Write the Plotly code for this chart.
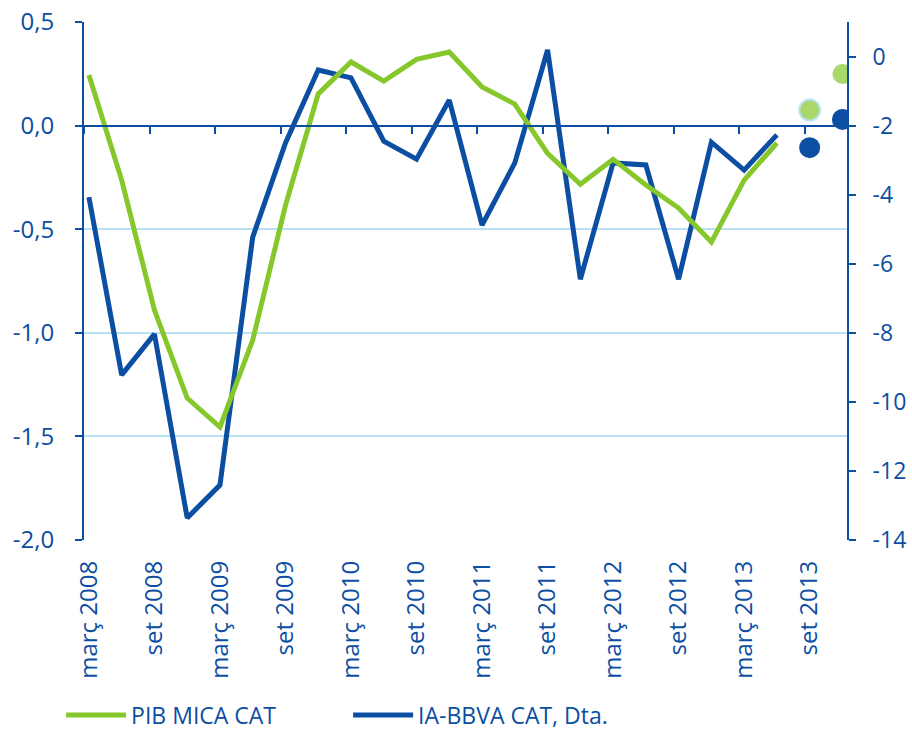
import plotly.graph_objects as go

# ---- data ----
quarters = ["març 2008", "juny 2008", "set 2008", "des 2008",
            "març 2009", "juny 2009", "set 2009", "des 2009",
            "març 2010", "juny 2010", "set 2010", "des 2010",
            "març 2011", "juny 2011", "set 2011", "des 2011",
            "març 2012", "juny 2012", "set 2012", "des 2012",
            "març 2013", "juny 2013", "set 2013", "des 2013"]

pib_mica = [0.244, -0.263, -0.89, -1.315, -1.455, -1.035, -0.385, 0.153,
            0.307, 0.215, 0.32, 0.355, 0.186, 0.104, -0.134, -0.283,
            -0.163, -0.287, -0.398, -0.562, -0.263, -0.084]
ia_bbva = [-4.07, -9.22, -8.04, -13.36, -12.41, -5.23, -2.50, -0.39,
           -0.62, -2.45, -2.97, -1.26, -4.88, -3.08, 0.19, -6.45,
           -3.08, -3.14, -6.45, -2.48, -3.29, -2.27]

pib_forecast_q = [22, 23]
pib_forecast = [0.075, 0.249]
ia_forecast_q = [22, 23]
ia_forecast = [-2.64, -1.82]

left_ticks = [0.5, 0.0, -0.5, -1.0, -1.5, -2.0]
left_ticktext = ["0,5", "0,0", "-0,5", "-1,0", "-1,5", "-2,0"]
right_ticks = [0, -2, -4, -6, -8, -10, -12, -14]
right_ticktext = ["0", "-2", "-4", "-6", "-8", "-10", "-12", "-14"]

label_idx = list(range(0, 24, 2))
label_text = [quarters[i] for i in label_idx]

BLUE = "#0b4ea2"
GREEN = "#86c72c"
GRID = "#b8e2f4"
FONT = "Open Sans"

x_main = list(range(len(pib_mica)))
x_ia = list(range(len(ia_bbva)))
xr = [-0.15, 23.14]
zero_ticks = [2 * k - 0.15 for k in range(12)]

fig = go.Figure()
fig.add_trace(go.Scatter(x=x_main, y=pib_mica, mode="lines", name="PIB MICA CAT",
                         line=dict(color=GREEN, width=5), xaxis="x2", yaxis="y"))
fig.add_trace(go.Scatter(x=x_ia, y=ia_bbva, mode="lines", name="IA-BBVA CAT, Dta.",
                         line=dict(color=BLUE, width=5), xaxis="x", yaxis="y2"))
fig.add_trace(go.Scatter(x=pib_forecast_q, y=pib_forecast, mode="markers", showlegend=False,
                         marker=dict(color=GREEN, size=[21, 20],
                                     line=dict(color=["#9fd6f2", GREEN], width=[2, 0])),
                         xaxis="x", yaxis="y"))
fig.add_trace(go.Scatter(x=ia_forecast_q, y=ia_forecast, mode="markers", showlegend=False,
                         marker=dict(color=BLUE, size=21), xaxis="x", yaxis="y2"))

fig.update_layout(
    width=912, height=734,
    margin=dict(l=84, r=65, t=22, b=194, autoexpand=False),
    paper_bgcolor="white", plot_bgcolor="white",
    font=dict(family=FONT, color=BLUE, size=24),
    xaxis=dict(range=xr, tickmode="array", tickvals=label_idx, ticktext=label_text,
               tickangle=-90, showline=False, showgrid=False, zeroline=False,
               ticks="", ticklabelstandoff=15, ticklabeloverflow="allow",
               tickfont=dict(size=24, color=BLUE)),
    xaxis2=dict(range=xr, overlaying="x", anchor="free", position=0.8,
                showline=True, linecolor=BLUE, linewidth=2, showgrid=False,
                zeroline=False, ticks="outside", ticklen=7, tickwidth=2, tickcolor=BLUE,
                tickmode="array", tickvals=zero_ticks, showticklabels=False),
    yaxis=dict(range=[-2, 0.5], tickmode="array", tickvals=left_ticks, ticktext=left_ticktext,
               showline=True, linecolor=BLUE, linewidth=2, ticks="outside", ticklen=7,
               tickwidth=2, tickcolor=BLUE, showgrid=True, gridcolor=GRID, gridwidth=2,
               zeroline=False, ticklabelstandoff=16, ticklabeloverflow="allow",
               tickfont=dict(size=24, color=BLUE)),
    yaxis2=dict(range=[-14, 1], overlaying="y", side="right", tickmode="array",
                tickvals=right_ticks, ticktext=right_ticktext,
                showline=True, linecolor=BLUE, linewidth=2, ticks="outside", ticklen=7,
                tickwidth=2, tickcolor=BLUE, showgrid=False, zeroline=False,
                ticklabelstandoff=12, ticklabeloverflow="allow",
                tickfont=dict(size=23, color=BLUE)),
    legend=dict(orientation="h", x=-0.03, y=-0.338, xanchor="left", yanchor="middle",
                font=dict(size=23, color=BLUE), entrywidth=212, entrywidthmode="pixels",
                itemwidth=60, bgcolor="rgba(0,0,0,0)"),
    showlegend=True,
)

fig.write_html("out.html", config={"displayModeBar": False},
               post_script="document.body.style.margin='0';document.body.style.overflow='hidden';")
